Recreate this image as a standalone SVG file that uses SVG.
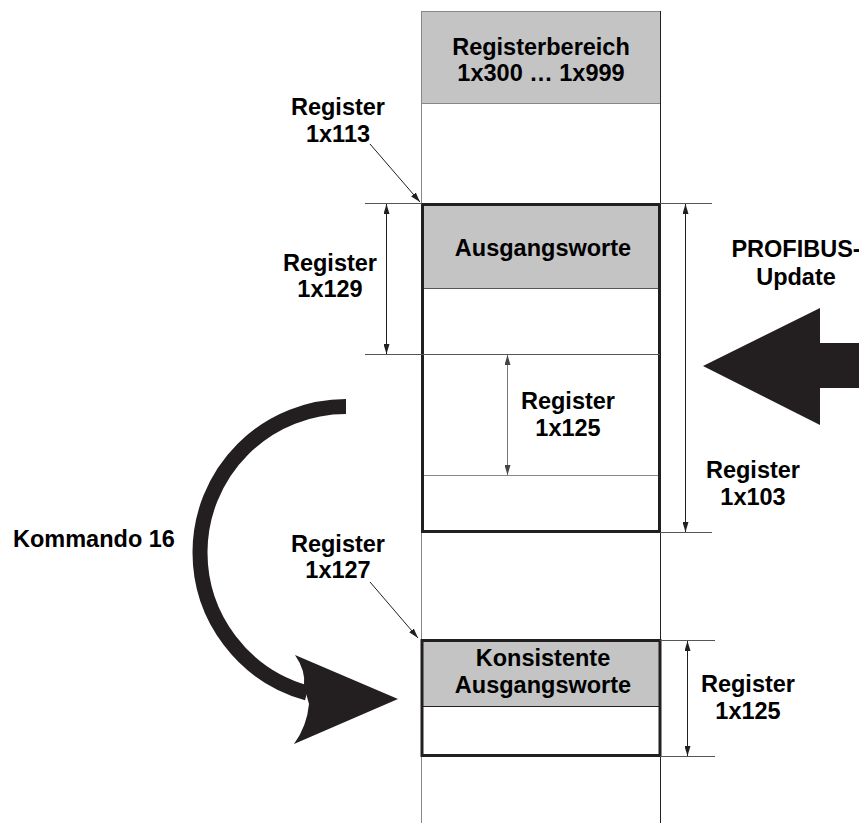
<svg xmlns="http://www.w3.org/2000/svg" width="859" height="823" viewBox="0 0 859 823">
<style>
text{font-family:"Liberation Sans",Arial,sans-serif;font-weight:bold;font-size:23.5px;fill:#000;}
.c{text-anchor:middle;}
.thin{stroke:#555;stroke-width:1;fill:none;}
.thinDark{stroke:#231f20;stroke-width:1;fill:none;}
.thinGray{stroke:#888;stroke-width:1;fill:none;}
.gray{fill:#c4c4c4;}
.thick{fill:none;stroke:#231f20;stroke-width:3;}
.dim{stroke:#231f20;stroke-width:1;fill:none;marker-start:url(#ah);marker-end:url(#ah);}
.dimG{stroke:#777;stroke-width:1;fill:none;marker-start:url(#ahg);marker-end:url(#ahg);}
.lead{stroke:#231f20;stroke-width:1;fill:none;marker-end:url(#ah);}
.big{fill:#231f20;}
</style>
<defs>
<marker id="ah" viewBox="0 0 10 6" refX="10" refY="3" markerWidth="10" markerHeight="6" markerUnits="userSpaceOnUse" orient="auto-start-reverse">
<path d="M0,0 L10,3 L0,6 Z" fill="#231f20"/>
</marker>
<marker id="ahg" viewBox="0 0 10 6" refX="10" refY="3" markerWidth="10" markerHeight="6" markerUnits="userSpaceOnUse" orient="auto-start-reverse">
<path d="M0,0 L10,3 L0,6 Z" fill="#444"/>
</marker>
</defs>
<rect width="859" height="823" fill="#fff"/>

<g id="column">
<rect class="gray" x="422" y="12" width="238" height="91"/>
<line class="thinGray" x1="421.5" y1="11.5" x2="660.5" y2="11.5"/>
<line class="thinGray" x1="421.5" y1="103.5" x2="660.5" y2="103.5"/>
<line class="thinGray" x1="421.5" y1="11" x2="421.5" y2="823"/>
<line class="thinDark" x1="660.5" y1="11" x2="660.5" y2="823"/>
<text class="c" x="541" y="55">Registerbereich</text>
<text class="c" x="541" y="81">1x300 … 1x999</text>
</g>

<g id="ausgangsworte">
<rect class="gray" x="424" y="206" width="235" height="82"/>
<line class="thin" x1="423" y1="288.5" x2="659" y2="288.5"/>
<line class="thinGray" x1="423" y1="475.5" x2="659" y2="475.5"/>
<rect class="thick" x="422.5" y="204.5" width="237" height="327"/>
<text class="c" x="543" y="256">Ausgangsworte</text>
</g>

<g id="konsistente">
<rect class="gray" x="423" y="642" width="236" height="64"/>
<line class="thinDark" x1="423" y1="706.5" x2="659" y2="706.5"/>
<rect class="thick" x="422" y="640.5" width="238" height="115"/>
<text class="c" x="543" y="666">Konsistente</text>
<text class="c" x="543" y="693">Ausgangsworte</text>
</g>

<g id="labels">
<text class="c" x="338" y="115">Register</text>
<text class="c" x="338" y="142">1x113</text>
<text class="c" x="330" y="271">Register</text>
<text class="c" x="330" y="297">1x129</text>
<text class="c" x="568" y="409">Register</text>
<text class="c" x="568" y="436">1x125</text>
<text class="c" x="753" y="478">Register</text>
<text class="c" x="753" y="505">1x103</text>
<text class="c" x="338" y="552">Register</text>
<text class="c" x="338" y="578">1x127</text>
<text class="c" x="748" y="692">Register</text>
<text class="c" x="748" y="719">1x125</text>
<text x="13" y="547">Kommando 16</text>
<text class="c" x="796" y="257">PROFIBUS-</text>
<text class="c" x="796" y="285">Update</text>
</g>

<g id="connectors">
<!-- extension lines -->
<line class="thin" x1="365" y1="203.5" x2="422" y2="203.5"/>
<line class="thin" x1="660" y1="203.5" x2="712" y2="203.5"/>
<line class="thin" x1="365" y1="354.5" x2="660" y2="354.5"/>
<line class="thin" x1="660" y1="532.5" x2="712" y2="532.5"/>
<line class="thin" x1="660" y1="640.5" x2="715" y2="640.5"/>
<line class="thin" x1="660" y1="756.5" x2="715" y2="756.5"/>
<!-- dimension arrows -->
<line class="dim" x1="386.5" y1="204" x2="386.5" y2="354"/>
<line class="dimG" x1="507.5" y1="355" x2="507.5" y2="475"/>
<line class="dim" x1="685.5" y1="204" x2="685.5" y2="532"/>
<line class="dim" x1="687.5" y1="641" x2="687.5" y2="756"/>
<!-- leaders -->
<line class="lead" x1="370" y1="144" x2="420" y2="202"/>
<line class="lead" x1="370" y1="582" x2="418" y2="638"/>
<!-- PROFIBUS update arrow -->
<polygon class="big" points="703,366 820,308 820,343 859,343 859,388 820,388 820,425"/>
<!-- Kommando 16 curved arrow -->
<path d="M346,406.5 A146,146 0 0 0 200,552 A146,146 0 0 0 307,693" fill="none" stroke="#231f20" stroke-width="15"/>
<path class="big" d="M398,699 L295,655 Q306,671 304,686 L309,704 Q307,726 294,744 Z"/>
</g>
</svg>
